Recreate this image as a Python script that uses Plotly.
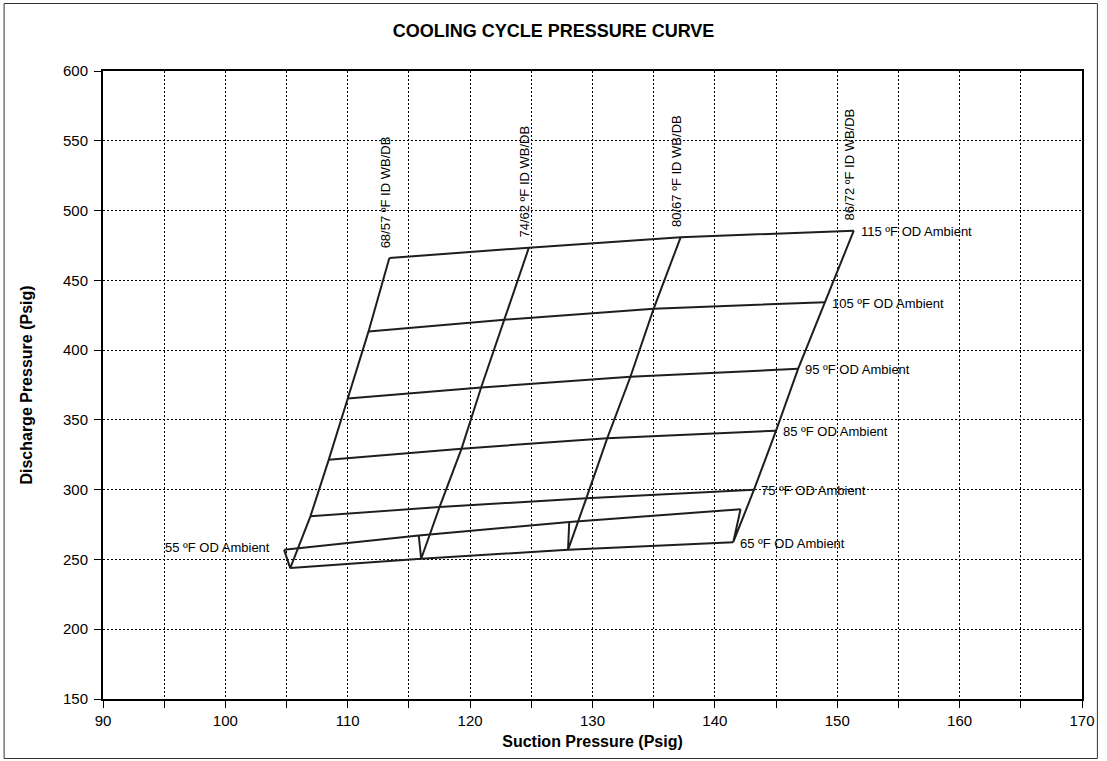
import plotly.graph_objects as go

# OD ambient temperatures (one line per ambient) and ID conditions (one line per WB/DB pair)
ambients = [55, 65, 75, 85, 95, 105, 115]
id_conditions = ['68/57', '74/62', '80/67', '86/72']

# suction / discharge pressure at each ID condition, per OD ambient
suction_55 = [104.8, 115.8, 128.1, 142.1]
discharge_55 = [256.9, 267.2, 276.8, 285.9]
suction_65 = [105.3, 116.0, 128.0, 141.5]
discharge_65 = [243.8, 250.5, 256.9, 262.4]
suction_75 = [106.95, 117.5, 129.5, 143.2]
discharge_75 = [280.9, 287.5, 293.9, 300.0]
suction_85 = [108.45, 119.3, 131.2, 145.0]
discharge_85 = [321.5, 329.4, 336.8, 342.3]
suction_95 = [110.0, 120.9, 133.1, 146.8]
discharge_95 = [365.3, 373.2, 380.9, 386.6]
suction_105 = [111.7, 122.8, 135.0, 149.0]
discharge_105 = [413.4, 421.8, 429.7, 434.3]
suction_115 = [113.4, 124.8, 137.2, 151.35]
discharge_115 = [466.0, 473.4, 480.8, 485.6]

x_ticks = [90, 95, 100, 105, 110, 115, 120, 125, 130, 135, 140, 145, 150, 155, 160, 165, 170]
x_tick_labels = ['90', '', '100', '', '110', '', '120', '', '130', '', '140', '', '150', '', '160', '', '170']

suction = [suction_55, suction_65, suction_75, suction_85, suction_95, suction_105, suction_115]
discharge = [discharge_55, discharge_65, discharge_75, discharge_85, discharge_95, discharge_105, discharge_115]

FONT = 'Arial, Liberation Sans, sans-serif'
LINE = dict(color='#1e1e1e', width=2)
LABEL_FONT = dict(family=FONT, size=13, color='#000')

fig = go.Figure()

# OD ambient lines
for amb, xs, ys in zip(ambients, suction, discharge):
    fig.add_trace(go.Scatter(x=xs, y=ys, mode='lines', line=LINE,
                             name=f'{amb} ºF OD Ambient', showlegend=False))

# ID condition lines (run through the ambients in order)
for j, cond in enumerate(id_conditions):
    xs = [row[j] for row in suction]
    ys = [row[j] for row in discharge]
    fig.add_trace(go.Scatter(x=xs, y=ys, mode='lines', line=LINE,
                             name=f'{cond} ºF ID WB/DB', showlegend=False))

# labels on the OD lines
for amb, xs, ys in zip(ambients, suction, discharge):
    if amb == 55:
        fig.add_annotation(x=xs[0], y=ys[0], text=f'{amb} ºF OD Ambient', showarrow=False,
                           xanchor='right', yanchor='middle', xshift=-12, yshift=2,
                           font=LABEL_FONT)
    else:
        fig.add_annotation(x=xs[-1], y=ys[-1], text=f'{amb} ºF OD Ambient', showarrow=False,
                           xanchor='left', yanchor='middle', xshift=5, yshift=-1,
                           font=LABEL_FONT)

# labels on the ID lines (vertical, above the top point)
for j, cond in enumerate(id_conditions):
    fig.add_annotation(x=suction_115[j], y=discharge_115[j], text=f'{cond} ºF ID WB/DB',
                       showarrow=False, textangle=-90, xanchor='center', yanchor='bottom',
                       xshift=-4, yshift=8, font=LABEL_FONT)

# outer chart frame
L, R, T, B = 103, 19, 71, 62
W, H = 1107, 761
pw, ph = W - L - R, H - T - B
fig.add_shape(type='rect', xref='paper', yref='paper',
              x0=(3.5 - L) / pw, x1=(W - 3.5 - L) / pw,
              y0=(H - B - (H - 2.5)) / ph, y1=(H - B - 3.5) / ph,
              line=dict(color='#333', width=1))

fig.update_layout(
    width=W, height=H,
    margin=dict(l=L, r=R, t=T, b=B),
    paper_bgcolor='white', plot_bgcolor='white',
    title=dict(text='<b>COOLING CYCLE PRESSURE CURVE</b>', x=0.5, xref='container',
               y=1 - 31 / H, yanchor='middle', font=dict(family=FONT, size=18, color='#000')),
    font=dict(family=FONT, size=15, color='#000'),
)
GRID = dict(showgrid=True, gridcolor='#000', griddash='2px,2px', gridwidth=1,
            showline=True, linecolor='#000', linewidth=2, mirror=True,
            ticks='outside', ticklen=7, tickcolor='#000', zeroline=False,
            tickfont=dict(family=FONT, size=15))
fig.update_xaxes(
    range=[90, 170], tickvals=x_ticks, ticktext=x_tick_labels, **GRID,
    title=dict(text='<b>Suction Pressure (Psig)</b>', standoff=8, font=dict(family=FONT, size=16)),
)
fig.update_yaxes(
    range=[150, 600], dtick=50, ticklabelstandoff=3, **GRID,
    title=dict(text='<b>Discharge Pressure (Psig)</b>', standoff=26, font=dict(family=FONT, size=16)),
)

# page without the default body margin so the figure sits at the window origin
fig.write_html('out.html', config={'displayModeBar': False},
               post_script="document.body.style.margin='0';document.body.style.overflow='hidden';")
